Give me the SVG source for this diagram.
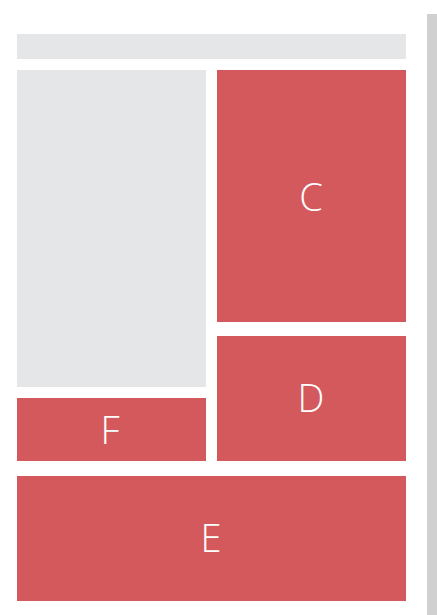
<svg xmlns="http://www.w3.org/2000/svg" width="437" height="615" viewBox="0 0 437 615">
<style>
.g{fill:#e5e6e8}
.r{fill:#d4595c}
.t{fill:#ffffff;font-family:"Open Sans","Lato",sans-serif;font-weight:300;font-size:38px;text-anchor:middle}
</style>
<rect width="437" height="615" fill="#ffffff"/>
<rect x="427" y="14" width="10" height="601" fill="#d0d0d0"/>
<g id="header"><rect class="g" x="17" y="34" width="389" height="25"/></g>
<g id="A"><rect class="g" x="17" y="70" width="189" height="317"/></g>
<g id="C"><rect class="r" x="217" y="70" width="189" height="252"/><text class="t" x="311" y="211">C</text></g>
<g id="D"><rect class="r" x="217" y="336" width="189" height="125"/><text class="t" x="311" y="412">D</text></g>
<g id="F"><rect class="r" x="17" y="398" width="189" height="63"/><text class="t" x="110" y="444">F</text></g>
<g id="E"><rect class="r" x="17" y="476" width="389" height="125"/><text class="t" x="211" y="552">E</text></g>
<g id="connectors"></g>
</svg>
